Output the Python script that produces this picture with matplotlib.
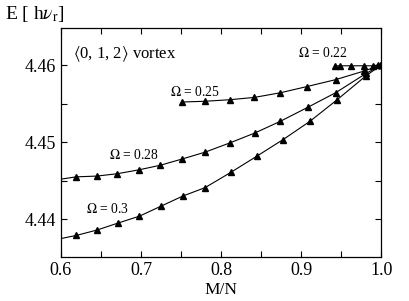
import matplotlib
matplotlib.use("Agg")
import matplotlib.pyplot as plt
from matplotlib.ticker import MultipleLocator, FormatStrFormatter

plt.rcParams['font.family'] = 'serif'
plt.rcParams['font.serif'] = ['Liberation Serif', 'DejaVu Serif']
plt.rcParams['mathtext.fontset'] = 'stix'

# Omega = 0.3 (first point is the line start at the left edge, no marker)
x30 = [0.600, 0.619, 0.645, 0.671, 0.698, 0.725, 0.752, 0.780, 0.8125, 0.845, 0.877, 0.911, 0.945, 0.981, 1.000]
y30 = [4.4375, 4.4379, 4.4386, 4.4395, 4.4404, 4.4417, 4.4430, 4.4441, 4.4461, 4.4482, 4.4503, 4.4527, 4.4555, 4.4586, 4.4600]

# Omega = 0.28
x28 = [0.600, 0.619, 0.645, 0.670, 0.697, 0.724, 0.751, 0.780, 0.811, 0.8425, 0.874, 0.908, 0.943, 0.981, 1.000]
y28 = [4.4452, 4.4455, 4.4456, 4.4459, 4.4464, 4.4470, 4.4478, 4.4487, 4.4499, 4.4512, 4.4527, 4.4545, 4.4564, 4.4589, 4.4600]

# Omega = 0.25
x25 = [0.751, 0.780, 0.811, 0.8416, 0.874, 0.907, 0.943, 0.978, 1.000]
y25 = [4.4552, 4.4553, 4.4555, 4.4558, 4.4564, 4.4572, 4.4581, 4.4592, 4.4600]

# Omega = 0.22
x22 = [0.9425, 0.948, 0.9625, 0.978, 0.9896, 0.996, 1.000]
y22 = [4.4599, 4.4599, 4.4599, 4.4599, 4.4599, 4.4600, 4.4600]

fig = plt.figure(figsize=(4.09, 3.01), dpi=100)
ax = fig.add_axes([0.149, 0.146, 0.783, 0.761])

lw = 0.8
ms = 4.5
ax.plot(x30, y30, color='black', lw=lw)
ax.plot(x30[1:], y30[1:], '^', color='black', ms=ms)
ax.plot(x28, y28, color='black', lw=lw)
ax.plot(x28[1:], y28[1:], '^', color='black', ms=ms)
ax.plot(x25, y25, '-^', color='black', lw=lw, ms=ms)
ax.plot(x22, y22, '-^', color='black', lw=lw, ms=ms)

ax.text(0.615, 4.4614, r'$\langle$0, 1, 2$\rangle$ vortex', fontsize=12, va='center', ha='left')
ax.text(0.927, 4.4615, r'$\Omega$ = 0.22', fontsize=9.8, va='center', ha='center')
ax.text(0.767, 4.4565, r'$\Omega$ = 0.25', fontsize=9.8, va='center', ha='center')
ax.text(0.6906, 4.4483, r'$\Omega$ = 0.28', fontsize=9.8, va='center', ha='center')
ax.text(0.6584, 4.4413, r'$\Omega$ = 0.3', fontsize=9.8, va='center', ha='center')

ax.set_xlim(0.6, 1.0)
ax.set_ylim(4.4351, 4.4648)
ax.xaxis.set_major_locator(MultipleLocator(0.1))
ax.xaxis.set_minor_locator(MultipleLocator(0.05))
ax.yaxis.set_major_locator(MultipleLocator(0.01))
ax.yaxis.set_minor_locator(MultipleLocator(0.005))
ax.xaxis.set_major_formatter(FormatStrFormatter('%.1f'))
ax.yaxis.set_major_formatter(FormatStrFormatter('%.2f'))
ax.tick_params(which='both', direction='in', top=True, right=True, labelsize=13, width=0.8, length=4)
for s in ax.spines.values():
    s.set_linewidth(0.9)

ax.set_xlabel('M/N', fontsize=12.5, labelpad=2)
fig.text(0.012, 0.955, r'E [ h$\nu_{\rm r}$]', fontsize=14, va='center', ha='left')

fig.savefig('out.png', dpi=100)
